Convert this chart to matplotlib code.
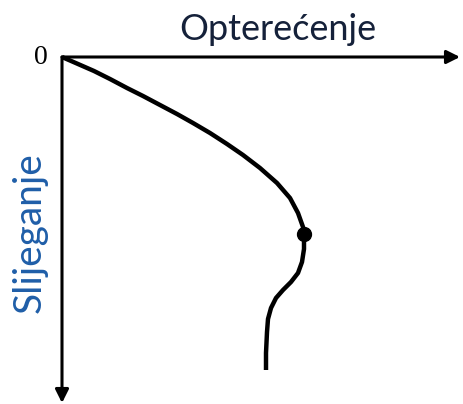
import numpy as np
import matplotlib.pyplot as plt

# load-settlement curve (load to the right, settlement downward)
load = [0, 16, 32, 48, 65, 81, 98, 115, 131, 148, 165, 181, 198, 215, 228,
        236, 241, 242, 242, 240, 236, 229, 221, 214, 209, 206, 205, 204, 204]
settlement = [0, 7, 14, 22, 31, 39, 48, 57, 66, 76, 87, 98, 111, 126, 141,
              156, 170, 177, 192, 205, 216, 225, 233, 241, 251, 262, 275, 296, 313]

x_label = 'Opterećenje'
y_label = 'Slijeganje'
origin_label = '0'

load = np.array(load)
settlement = np.array(settlement)
ipeak = np.argmax(load)

fig = plt.figure(figsize=(4.63, 4.04), dpi=100)
ax = fig.add_axes([0, 0, 1, 1])
ax.set_xlim(-62, 401)
ax.set_ylim(347, -57)
ax.axis('off')

# axes drawn as arrows from the origin
ax.annotate('', xy=(398, 0), xytext=(0, 0),
            arrowprops=dict(arrowstyle='-|>', color='black', lw=2.2,
                            mutation_scale=20, shrinkA=0, shrinkB=0))
ax.annotate('', xy=(0, 346), xytext=(0, 0),
            arrowprops=dict(arrowstyle='-|>', color='black', lw=2.2,
                            mutation_scale=20, shrinkA=0, shrinkB=0))

ax.plot(load, settlement, color='black', lw=3.2, solid_capstyle='butt',
        solid_joinstyle='round')
ax.plot(load[ipeak], settlement[ipeak], 'o', color='black', ms=10)

ax.text(216, -28, x_label, ha='center', va='center', fontsize=26,
        family='Lato', color='#15213a')
ax.text(-32, 176, y_label, ha='center', va='center', fontsize=28,
        family='Lato', color='#1f5ea8', rotation=90)
ax.text(-14, 0, origin_label, ha='right', va='center', fontsize=20,
        family='Liberation Serif', color='black')

fig.savefig('out.png', dpi=100)
